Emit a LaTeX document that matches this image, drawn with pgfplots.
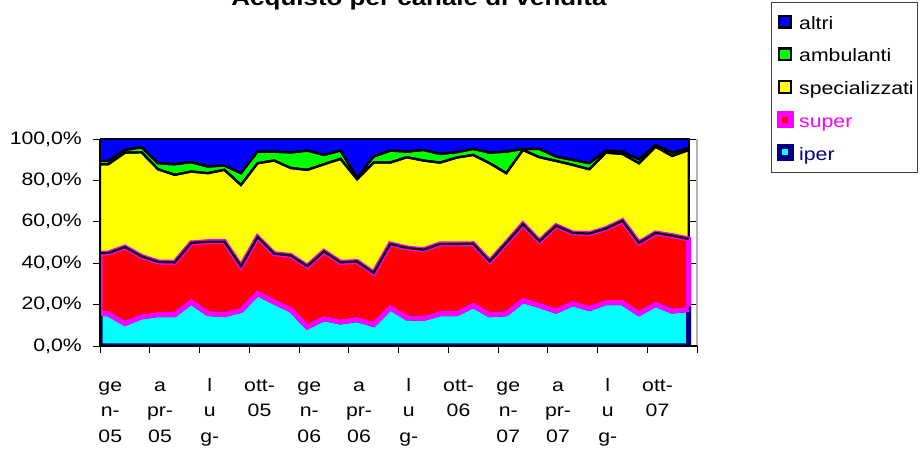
\documentclass[border=0pt]{standalone}
\usepackage{fontspec}
\setmainfont{Liberation Sans}[FakeStretch=1.18]
\usepackage{pgfplots}
\pgfplotsset{compat=1.18}
\usepackage{pgfplotstable}

\definecolor{xlnavy}{RGB}{0,0,128}
\definecolor{xlcyan}{RGB}{0,255,255}
\definecolor{xlmag}{RGB}{255,0,255}
\definecolor{xlred}{RGB}{255,0,0}
\definecolor{xlyel}{RGB}{255,255,0}
\definecolor{xlgreen}{RGB}{0,255,0}
\definecolor{xlblue}{RGB}{0,0,255}

% cumulative shares (percent): c1 = iper, c2 = +super, c3 = +specializzati,
% c4 = +ambulanti, top = +altri
\pgfplotstableread{
x c1 c2 c3 c4 top
-0.5 15.6 44.9 87.8 89.4 100
0 15.6 44.9 87.8 89.4 100
1 10.9 47.8 93.4 94.7 100
2 14.1 43.3 93.6 96.0 100
3 15.2 40.6 85.4 88.3 100
4 15.2 40.4 82.7 87.8 100
5 21.3 49.8 84.3 88.8 100
6 15.7 50.4 83.5 86.7 100
7 15.2 50.4 85.1 87.2 100
8 17.2 38.5 77.8 83.5 100
9 25.4 52.6 88.3 93.9 100
10 21.3 44.6 89.6 93.9 100
11 17.5 43.7 86.0 93.5 100
12 9.3 38.5 85.1 94.4 100
13 13.2 45.7 87.8 92.3 100
14 11.6 40.4 90.4 94.4 100
15 12.8 40.8 80.6 81.3 100
16 10.4 35.3 88.6 91.5 100
17 18.5 49.3 88.6 94.4 100
18 13.6 47.4 91.2 93.9 100
19 13.3 46.5 89.6 94.7 100
20 15.6 49.3 88.6 92.8 100
21 15.6 49.3 91.0 93.6 100
22 19.6 49.4 92.3 95.2 100
23 15.1 40.9 88.3 93.4 100
24 15.6 49.8 83.5 93.9 100
25 22.0 58.9 94.7 95.2 100
26 19.6 50.6 91.2 95.2 100
27 16.9 58.1 89.4 91.5 100
28 20.5 54.6 87.5 89.9 100
29 18.1 54.3 85.4 88.3 100
30 20.9 56.7 93.4 94.4 100
31 20.9 60.5 92.8 93.9 100
32 15.7 49.8 88.3 90.2 100
33 20.1 54.6 96.3 97.1 100
34 16.9 53.3 91.8 93.4 100
35 17.7 51.7 94.7 95.5 100
}\data

\begin{document}
\begin{tikzpicture}[x=1pt,y=1pt]
\begin{axis}[
  at={(100pt,106pt)}, anchor=south west,
  scale only axis, width=597pt, height=207pt,
  xmin=-0.5, xmax=35.5, ymin=0, ymax=100,
  axis line style={draw=none},
  ymajorgrids, grid style={black, line width=0.6pt},
  tick align=outside, major tick length=7pt,
  tick style={black, line width=0.9pt},
  xtick pos=bottom, ytick pos=left,
  xtick={-0.5,2.5,...,35.5}, xticklabels={},
  extra x ticks={0,3,...,33},
  extra x tick labels={{\strut ge\\n-\\05},{\strut a\\pr-\\05},{\strut l\\u\\g-},{\strut ott-\\05},{\strut ge\\n-\\06},{\strut a\\pr-\\06},{\strut l\\u\\g-},{\strut ott-\\06},{\strut ge\\n-\\07},{\strut a\\pr-\\07},{\strut l\\u\\g-},{\strut ott-\\07}},
  extra x tick style={major tick length=0pt, tick style={draw=none}},
  xticklabel style={font=\fontsize{18}{25.5}\selectfont, align=center, anchor=north, inner sep=0pt, yshift=-27pt, xshift=2pt},
  ytick={0,20,...,100},
  yticklabels={{0,0\%},{20,0\%},{40,0\%},{60,0\%},{80,0\%},{100,0\%}},
  yticklabel style={font=\fontsize{18}{22}\selectfont, anchor=east, inner sep=0pt, xshift=-11pt},
  every axis plot/.append style={line join=miter},
  after end axis/.code={
    \draw[gray!60, line width=1.5pt] (rel axis cs:1,0) -- (rel axis cs:1,1);
    \draw[black, line width=2.3pt] (rel axis cs:0,1) -- (axis cs:35,100);
    \draw[black, line width=1.3pt] (rel axis cs:0,1) -- (rel axis cs:0,0) -- (rel axis cs:1,0);
  },
]
% areas (filled from the top series down)
\addplot[fill=xlblue, draw=black, line width=2.3pt] table[x=x,y=top]{\data} \closedcycle;
\addplot[fill=xlgreen, draw=black, line width=2.3pt] table[x=x,y=c4]{\data} \closedcycle;
\addplot[fill=xlyel, draw=black, line width=2.3pt] table[x=x,y=c3]{\data} \closedcycle;
\addplot[fill=xlred, draw=xlmag, line width=5pt] table[x=x,y=c2]{\data} \closedcycle;
\addplot[fill=xlcyan, draw=xlnavy, line width=5pt] table[x=x,y=c1]{\data} \closedcycle;
% series borders
\addplot[draw=xlmag, line width=5pt] table[x=x,y=c1]{\data};
\addplot[draw=black, line width=2.3pt] table[x=x,y=c2]{\data};
\addplot[draw=black, line width=2.3pt] table[x=x,y=c3]{\data};
\addplot[draw=black, line width=2.3pt] table[x=x,y=c4]{\data};
\end{axis}

% title (partly cut off at the top, as in the reference)
\node[anchor=base, font=\fontsize{22}{26}\selectfont\bfseries] at (419,446) {Acquisto per canale di vendita};

% legend
\draw[black!75, line width=0.8pt] (771.5,280) rectangle (917,449.3);
\begin{scope}[font=\fontsize{18}{22}\selectfont]
\draw[fill=xlblue, draw=black, line width=2.3pt] (779.25,424.55) rectangle ++(11.5,11.5);
\node[anchor=base west, inner sep=0pt] at (799,422.7) {altri};
\draw[fill=xlgreen, draw=black, line width=2.3pt] (779.25,391.85) rectangle ++(11.5,11.5);
\node[anchor=base west, inner sep=0pt] at (799,390.0) {ambulanti};
\draw[fill=xlyel, draw=black, line width=2.3pt] (779.25,359.15) rectangle ++(11.5,11.5);
\node[anchor=base west, inner sep=0pt] at (799,357.3) {specializzati};
\draw[fill=xlred, draw=xlmag, line width=5.5pt] (779.25,326.45) rectangle ++(11.5,11.5);
\node[anchor=base west, inner sep=0pt, text=xlmag] at (799,324.6) {super};
\draw[fill=xlcyan, draw=xlnavy, line width=5.5pt] (779.25,293.75) rectangle ++(11.5,11.5);
\node[anchor=base west, inner sep=0pt, text=xlnavy] at (799,291.9) {iper};
\end{scope}

\pgfresetboundingbox
\useasboundingbox (0,0) rectangle (920,452);
\end{tikzpicture}
\end{document}
